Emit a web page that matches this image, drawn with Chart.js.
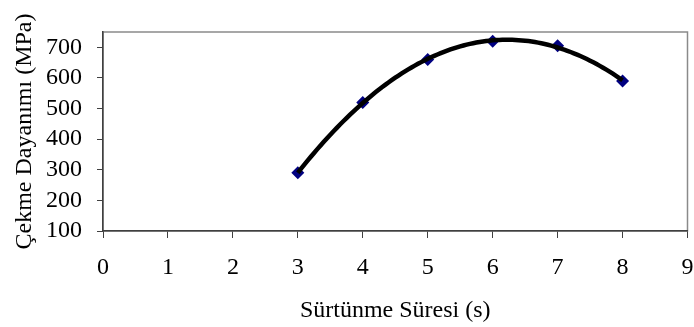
<!DOCTYPE html>
<html>
<head>
<meta charset="utf-8">
<script src="https://cdn.jsdelivr.net/npm/chart.js@4"></script>
<style>
  body { margin: 0; background: #fff; }
  canvas { display: block; }
</style>
</head>
<body>
<canvas id="chart" width="694" height="327"></canvas>
<script>
const sureler = [3, 4, 5, 6, 7, 8];
const dayanim = [290, 520, 660, 720, 705, 590];
const xTicks = [0, 1, 2, 3, 4, 5, 6, 7, 8, 9];
const yTicks = [100, 200, 300, 400, 500, 600, 700];

// 2nd order polynomial trendline (least squares), like the spreadsheet's
function polyFit2(xs, ys) {
  let n = xs.length, sx = 0, sx2 = 0, sx3 = 0, sx4 = 0, sy = 0, sxy = 0, sx2y = 0;
  for (let i = 0; i < n; i++) {
    const x = xs[i], y = ys[i];
    sx += x; sx2 += x * x; sx3 += x * x * x; sx4 += x * x * x * x;
    sy += y; sxy += x * y; sx2y += x * x * y;
  }
  const m = [[n, sx, sx2, sy], [sx, sx2, sx3, sxy], [sx2, sx3, sx4, sx2y]];
  for (let i = 0; i < 3; i++) {
    for (let k = i + 1; k < 3; k++) {
      const f = m[k][i] / m[i][i];
      for (let j = i; j < 4; j++) m[k][j] -= f * m[i][j];
    }
  }
  const c = [0, 0, 0];
  for (let i = 2; i >= 0; i--) {
    let s = m[i][3];
    for (let j = i + 1; j < 3; j++) s -= m[i][j] * c[j];
    c[i] = s / m[i][i];
  }
  return c;
}

const coef = polyFit2(sureler, dayanim);
const trend = [];
const x0 = sureler[0], x1 = sureler[sureler.length - 1];
for (let i = 0; i <= 100; i++) {
  const x = x0 + (x1 - x0) * i / 100;
  trend.push({ x: x, y: coef[0] + coef[1] * x + coef[2] * x * x });
}

const serif = "'Liberation Serif', 'Times New Roman', serif";

const frame = {
  id: "frame",
  beforeDraw(chart) {
    const a = chart.chartArea, ctx = chart.ctx;
    ctx.save();
    ctx.strokeStyle = "#8a8a8a";
    ctx.lineWidth = 1.5;
    ctx.strokeRect(a.left, a.top, a.right - a.left, a.bottom - a.top);
    ctx.restore();
  }
};

const ctx = document.getElementById("chart").getContext("2d");
const myChart = new Chart(ctx, {
  type: "scatter",
  data: {
    datasets: [
      {
        label: "Trend",
        data: trend,
        showLine: true,
        borderColor: "#000",
        borderWidth: 4.5,
        pointRadius: 0,
        tension: 0,
        order: 0,
      },
      {
        label: "Çekme Dayanımı",
        data: sureler.map((x, i) => ({ x: x, y: dayanim[i] })),
        pointStyle: "rectRot",
        pointRadius: 6.5,
        backgroundColor: "#000080",
        borderColor: "#000080",
        borderWidth: 0,
        order: 1,
      },
    ],
  },
  options: {
    responsive: false,
    animation: false,
    layout: {
      padding: { left: 0, right: 6, top: 32, bottom: 0 },
    },
    scales: {
      x: {
        type: "linear",
        min: 0,
        max: 9,
        afterBuildTicks: (s) => { s.ticks = xTicks.map((v) => ({ value: v })); },
        afterFit: (s) => { s.height = 96; s.paddingLeft = 0; s.paddingRight = 0; },
        grid: { drawOnChartArea: false, drawTicks: true, tickLength: 7, color: "#404040" },
        border: { display: true, color: "#404040", width: 1.5 },
        ticks: { color: "#000", font: { family: serif, size: 24 }, padding: 15 },
        title: {
          display: true,
          text: "Sürtünme Süresi (s)",
          color: "#000",
          font: { family: serif, size: 24 },
          padding: { top: 2, bottom: 2 },
        },
      },
      y: {
        type: "linear",
        min: 100,
        max: 750,
        afterBuildTicks: (s) => { s.ticks = yTicks.map((v) => ({ value: v })); },
        afterFit: (s) => { s.width = 103; s.paddingTop = 0; s.paddingBottom = 0; },
        grid: { drawOnChartArea: false, drawTicks: true, tickLength: 6, color: "#404040" },
        border: { display: true, color: "#404040", width: 1.5 },
        ticks: { color: "#000", font: { family: serif, size: 24 }, padding: 15 },
        title: {
          display: true,
          text: "Çekme Dayanımı (MPa)",
          color: "#000",
          font: { family: serif, size: 24 },
          padding: { top: 10, bottom: 10 },
        },
      },
    },
    plugins: {
      legend: { display: false },
      tooltip: { enabled: false },
    },
  },
  plugins: [frame],
});
</script>
</body>
</html>
